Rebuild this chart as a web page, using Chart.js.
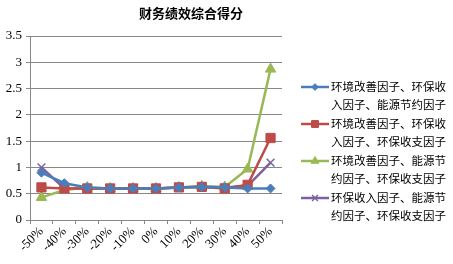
<!DOCTYPE html>
<html><head><meta charset="utf-8">
<script src="https://cdn.jsdelivr.net/npm/chart.js@4/dist/chart.umd.min.js"></script>
<style>html,body{margin:0;padding:0;background:#fff}#w{width:453px;height:264px;position:relative}</style>
</head><body><div id="w"><canvas id="c" width="453" height="264"></canvas></div>
<script>
const title = '财务绩效综合得分';
const categories = ['-50%','-40%','-30%','-20%','-10%','0%','10%','20%','30%','40%','50%'];
const seriesNames = [
  ['环境改善因子、环保收','入因子、能源节约因子'],
  ['环境改善因子、环保收','入因子、环保收支因子'],
  ['环境改善因子、能源节','约因子、环保收支因子'],
  ['环保收入因子、能源节','约因子、环保收支因子']
];
const blueValues   = [0.90,0.70,0.62,0.60,0.60,0.60,0.62,0.63,0.62,0.60,0.60];
const redValues    = [0.62,0.60,0.60,0.60,0.60,0.60,0.62,0.63,0.60,0.67,1.56];
const greenValues  = [0.43,0.57,0.62,0.60,0.60,0.60,0.62,0.64,0.63,0.97,2.87];
const purpleValues = [1.00,0.60,0.60,0.60,0.60,0.60,0.62,0.64,0.62,0.65,1.09];
const yTicks = [0,0.5,1,1.5,2,2.5,3,3.5];

const colors = ['#4A7EBB','#BE4B48','#98B954','#7D60A0'];
const styles = [
  {pointStyle:'rectRot', r:4.5},
  {pointStyle:'rect', r:6.5},
  {pointStyle:'triangle', r:6},
  {pointStyle:'crossRot', r:5.5}
];
const allValues = [blueValues, redValues, greenValues, purpleValues];

const datasets = allValues.map((v,i)=>({
  label: seriesNames[i].join(''),
  data: v,
  borderColor: colors[i],
  backgroundColor: colors[i],
  borderWidth: 2.5,
  pointStyle: styles[i].pointStyle,
  pointRadius: styles[i].r,
  pointBorderWidth: i===3 ? 1.5 : 1,
  pointBorderColor: colors[i],
  pointBackgroundColor: colors[i],
  tension: 0
}));

const overlay = {
  id:'overlay',
  afterDraw(chart){
    const ctx = chart.ctx;
    ctx.save();
    ctx.fillStyle = '#000';
    ctx.font = 'bold 13px "Noto Sans CJK SC"';
    ctx.textAlign = 'center';
    ctx.textBaseline = 'middle';
    ctx.fillText(title, 191, 13);
    ctx.font = '11.5px "Noto Sans CJK SC"';
    ctx.textAlign = 'left';
    const y0 = 87, step = 37;
    seriesNames.forEach((lines,i)=>{
      const y = y0 + i*step;
      ctx.strokeStyle = colors[i];
      ctx.lineWidth = 2.5;
      ctx.beginPath(); ctx.moveTo(301,y); ctx.lineTo(329,y); ctx.stroke();
      ctx.fillStyle = colors[i];
      ctx.lineWidth = i===3 ? 1.5 : 1;
      Chart.helpers.drawPoint(ctx, {pointStyle: styles[i].pointStyle, radius: styles[i].r*0.75, rotation:0, borderWidth:1}, 315, y);
      ctx.fillStyle = '#000';
      ctx.fillText(lines[0], 331, y);
      ctx.fillText(lines[1], 331, y + 17.5);
    });
    ctx.restore();
  }
};

new Chart(document.getElementById('c'), {
  type:'line',
  data:{labels:categories, datasets},
  options:{
    responsive:false,
    animation:false,
    devicePixelRatio:1,
    layout:{padding:{top:36,right:171,left:0,bottom:0}},
    plugins:{legend:{display:false}, title:{display:false}, tooltip:{enabled:false}},
    scales:{
      x:{
        offset:true,
        grid:{display:true, drawOnChartArea:false, drawTicks:true, tickLength:4, offset:true, color:'#888'},
        border:{display:true, color:'#888', width:1},
        ticks:{color:'#000', font:{family:'"Liberation Serif", serif', size:13}, maxRotation:45, minRotation:45, autoSkip:false, padding:0},
        afterFit(s){ s.height = 44; }
      },
      y:{
        min:0, max:3.5,
        afterBuildTicks(s){ s.ticks = yTicks.map(v=>({value:v})); },
        grid:{color:'#888', tickLength:4, drawTicks:true},
        border:{display:true, color:'#888', width:1},
        ticks:{color:'#000', font:{family:'"Liberation Serif", serif', size:13}, padding:4,
          callback:(v)=>String(v)},
        afterFit(s){ s.width = 30; }
      }
    }
  },
  plugins:[overlay]
});
</script></body></html>
